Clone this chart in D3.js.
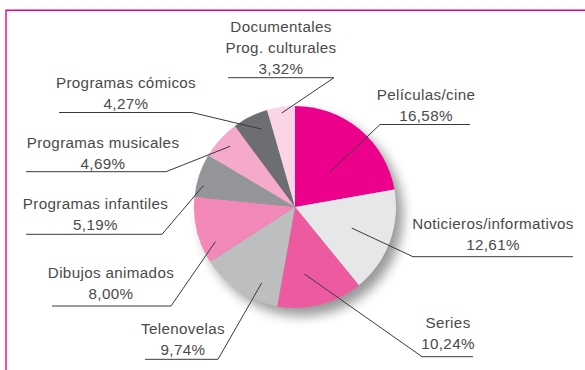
<!DOCTYPE html>
<html>
<head>
<meta charset="utf-8">
<script src="https://cdn.jsdelivr.net/npm/d3@7"></script>
<style>
  html, body { margin: 0; padding: 0; background: #fff; }
  svg { display: block; }
  text { font-family: "Liberation Sans", Arial, sans-serif; font-size: 15.2px; fill: #4a4a4a; letter-spacing: 0.35px; }
</style>
</head>
<body>
<svg id="chart" width="585" height="370"></svg>
<script>
// Audience share by programme type (clockwise from 12 o'clock)
const categories = [
  "Películas/cine",
  "Noticieros/informativos",
  "Series",
  "Telenovelas",
  "Dibujos animados",
  "Programas infantiles",
  "Programas musicales",
  "Programas cómicos",
  "Documentales\nProg. culturales"
];
const values = [16.58, 12.61, 10.24, 9.74, 8.00, 5.19, 4.69, 4.27, 3.32];
const valueLabels = ["16,58%", "12,61%", "10,24%", "9,74%", "8,00%", "5,19%", "4,69%", "4,27%", "3,32%"];
const colors = ["#EC008C", "#E6E7E8", "#EE5AA0", "#BCBEC0", "#F288B7", "#939598", "#F5AACB", "#6D6E71", "#FBD4E5"];

// Callout placement: text centre, first baseline, underline span, which end
// of the underline the leader leaves from, and where it lands in the slice.
const calloutLayout = [
  { cx: 426, by: 99.5,  u0: 380, u1: 470, uy: 124.5, end: "left",  r: 0.49, nudge: 5 },
  { cx: 493, by: 228.5, u0: 413, u1: 573, uy: 256.7, end: "left",  r: 0.60, nudge: 0 },
  { cx: 448, by: 327.5, u0: 422, u1: 473, uy: 356.7, end: "left",  r: 0.67, nudge: 6.5 },
  { cx: 183, by: 333.5, u0: 145, u1: 218, uy: 359.3, end: "right", r: 0.82, nudge: -10 },
  { cx: 111, by: 277.5, u0: 52,  u1: 171, uy: 306,   end: "right", r: 0.86, nudge: -10 },
  { cx: 95.5, by: 208.5, u0: 26, u1: 162, uy: 234.3, end: "right", r: 0.93, nudge: -5 },
  { cx: 103, by: 147.5, u0: 26,  u1: 166, uy: 171.7, end: "right", r: 0.88, nudge: 1 },
  { cx: 126, by: 87.5,  u0: 59,  u1: 192, uy: 112.5, end: "right", r: 0.84, nudge: 3 },
  { cx: 281, by: 32.3,  u0: 228, u1: 334, uy: 77.7,  end: "right", r: 0.94, nudge: 0 }
];
const lineGap = 21;

const svg = d3.select("#chart");
const W = 585, H = 370;
const cx = 295, cy = 207, R = 101;

// Magenta frame (top and left edges)
svg.append("path")
  .attr("d", `M6,${H} V10.3 H${W}`)
  .attr("fill", "none")
  .attr("stroke", "#EC008C")
  .attr("stroke-width", 1.4);

// Soft drop shadow beneath the pie
const defs = svg.append("defs");
const f = defs.append("filter").attr("id", "shadow")
  .attr("x", "-30%").attr("y", "-30%").attr("width", "170%").attr("height", "170%");
f.append("feGaussianBlur").attr("stdDeviation", 6);

const data = categories.map((c, i) => ({ cat: c, value: values[i], label: valueLabels[i], color: colors[i], lay: calloutLayout[i] }));

const pie = d3.pie().value(d => d.value).sort(null);
const arcs = pie(data);
const arc = d3.arc().innerRadius(0).outerRadius(R);

const g = svg.append("g").attr("transform", `translate(${cx},${cy})`);

g.append("circle")
  .attr("cx", 7).attr("cy", 8).attr("r", R)
  .attr("fill", "#000").attr("opacity", 0.4)
  .attr("filter", "url(#shadow)");

g.selectAll("path.slice")
  .data(arcs)
  .join("path")
  .attr("class", "slice")
  .attr("d", arc)
  .attr("fill", d => d.data.color);

// Leader lines: underline plus diagonal into the slice
arcs.forEach(a => {
  const L = a.data.lay;
  const mid = (a.startAngle + a.endAngle) / 2 + L.nudge * Math.PI / 180;
  const px = cx + Math.sin(mid) * R * L.r;
  const py = cy - Math.cos(mid) * R * L.r;
  const ex = L.end === "left" ? L.u0 : L.u1;
  const other = L.end === "left" ? L.u1 : L.u0;
  svg.append("path")
    .attr("d", `M${other},${L.uy} H${ex} L${px},${py}`)
    .attr("fill", "none")
    .attr("stroke", "#3a3a3a")
    .attr("stroke-width", 1);
});

// Callout text
arcs.forEach(a => {
  const L = a.data.lay;
  const lines = a.data.cat.split("\n").concat([a.data.label]);
  const t = svg.append("text").attr("text-anchor", "middle");
  lines.forEach((ln, i) => {
    t.append("tspan").attr("x", L.cx).attr("y", L.by + i * lineGap).text(ln);
  });
});
</script>
</body>
</html>
